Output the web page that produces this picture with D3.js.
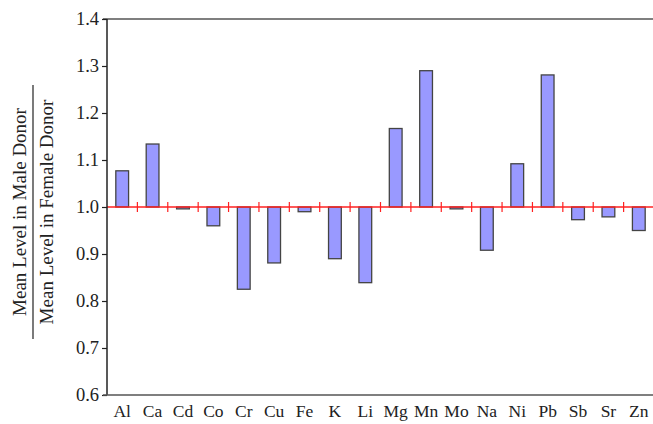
<!DOCTYPE html>
<html><head><meta charset="utf-8">
<script src="https://cdn.jsdelivr.net/npm/d3@7"></script>
<style>body{margin:0;background:#fff}svg{display:block}</style>
</head><body>
<svg id="c" width="653" height="424"></svg>
<script>
const categories = ["Al","Ca","Cd","Co","Cr","Cu","Fe","K","Li","Mg","Mn","Mo","Na","Ni","Pb","Sb","Sr","Zn"];
const ratios = [1.077,1.134,0.996,0.96,0.825,0.881,0.99,0.89,0.839,1.167,1.29,0.996,0.908,1.092,1.281,0.973,0.979,0.95];
const yTicks = [0.6,0.7,0.8,0.9,1.0,1.1,1.2,1.3,1.4];
const baseline = 1.0;

const svg = d3.select("#c");
const L = 107, R = 654, T = 19, B = 395;
const font = "'Liberation Serif','Times New Roman',serif";

const x = d3.scaleBand().domain(categories).range([L, R]).paddingInner(0).paddingOuter(0);
const y = d3.scaleLinear().domain([0.6, 1.4]).range([B, T]);

// top border
svg.append("line").attr("x1", L-4).attr("x2", 653).attr("y1", T).attr("y2", T)
  .attr("stroke", "#555").attr("stroke-width", 1.5);

// bars
const bw = x.bandwidth() * 0.42;
svg.append("g").selectAll("rect").data(categories).join("rect")
  .attr("x", (d) => x(d) + x.bandwidth()/2 - bw/2)
  .attr("width", bw)
  .attr("y", (d,i) => y(Math.max(ratios[i], baseline)))
  .attr("height", (d,i) => Math.abs(y(ratios[i]) - y(baseline)))
  .attr("fill", "#9999ff").attr("stroke", "#444").attr("stroke-width", 1.3);

// red baseline and ticks
svg.append("line").attr("x1", L).attr("x2", 653).attr("y1", y(baseline)).attr("y2", y(baseline))
  .attr("stroke", "#ff2020").attr("stroke-width", 1.5);
svg.append("g").selectAll("line").data(categories.slice(1)).join("line")
  .attr("x1", d => x(d)).attr("x2", d => x(d))
  .attr("y1", y(baseline)-5).attr("y2", y(baseline)+5)
  .attr("stroke", "#ff2020").attr("stroke-width", 1.2);

// y axis
const yAxis = svg.append("g").attr("transform", `translate(${L},0)`)
  .call(d3.axisLeft(y).tickValues(yTicks).tickFormat(d3.format(".1f")).tickSize(5).tickPadding(3));
yAxis.select(".domain").attr("stroke", "#222").attr("stroke-width", 1.5).attr("d", `M0,${T}V${B}`);
yAxis.selectAll(".tick line").attr("stroke", "#222").attr("stroke-width", 1.2);
yAxis.selectAll("text").attr("font-family", font).attr("font-size", 18.5).attr("fill", "#222");

// x axis
const xAxis = svg.append("g").attr("transform", `translate(0,${B})`)
  .call(d3.axisBottom(x).tickSize(0).tickPadding(10));
xAxis.select(".domain").attr("stroke", "#555").attr("stroke-width", 1.5).attr("d", `M${L-4},0H653`);
xAxis.selectAll("text").attr("font-family", font).attr("font-size", 17.5).attr("fill", "#222");

// y label (fraction)
const g = svg.append("g").attr("transform", "translate(33,212) rotate(-90)");
g.append("text").attr("x", 0).attr("y", -7).attr("text-anchor", "middle")
  .attr("font-family", font).attr("font-size", 19).attr("fill", "#222").text("Mean Level in Male Donor");
g.append("line").attr("x1", -127).attr("x2", 127).attr("y1", 0).attr("y2", 0).attr("stroke", "#222").attr("stroke-width", 1.2);
g.append("text").attr("x", 0).attr("y", 20).attr("text-anchor", "middle")
  .attr("font-family", font).attr("font-size", 19).attr("fill", "#222").text("Mean Level in Female Donor");
</script>
</body></html>
